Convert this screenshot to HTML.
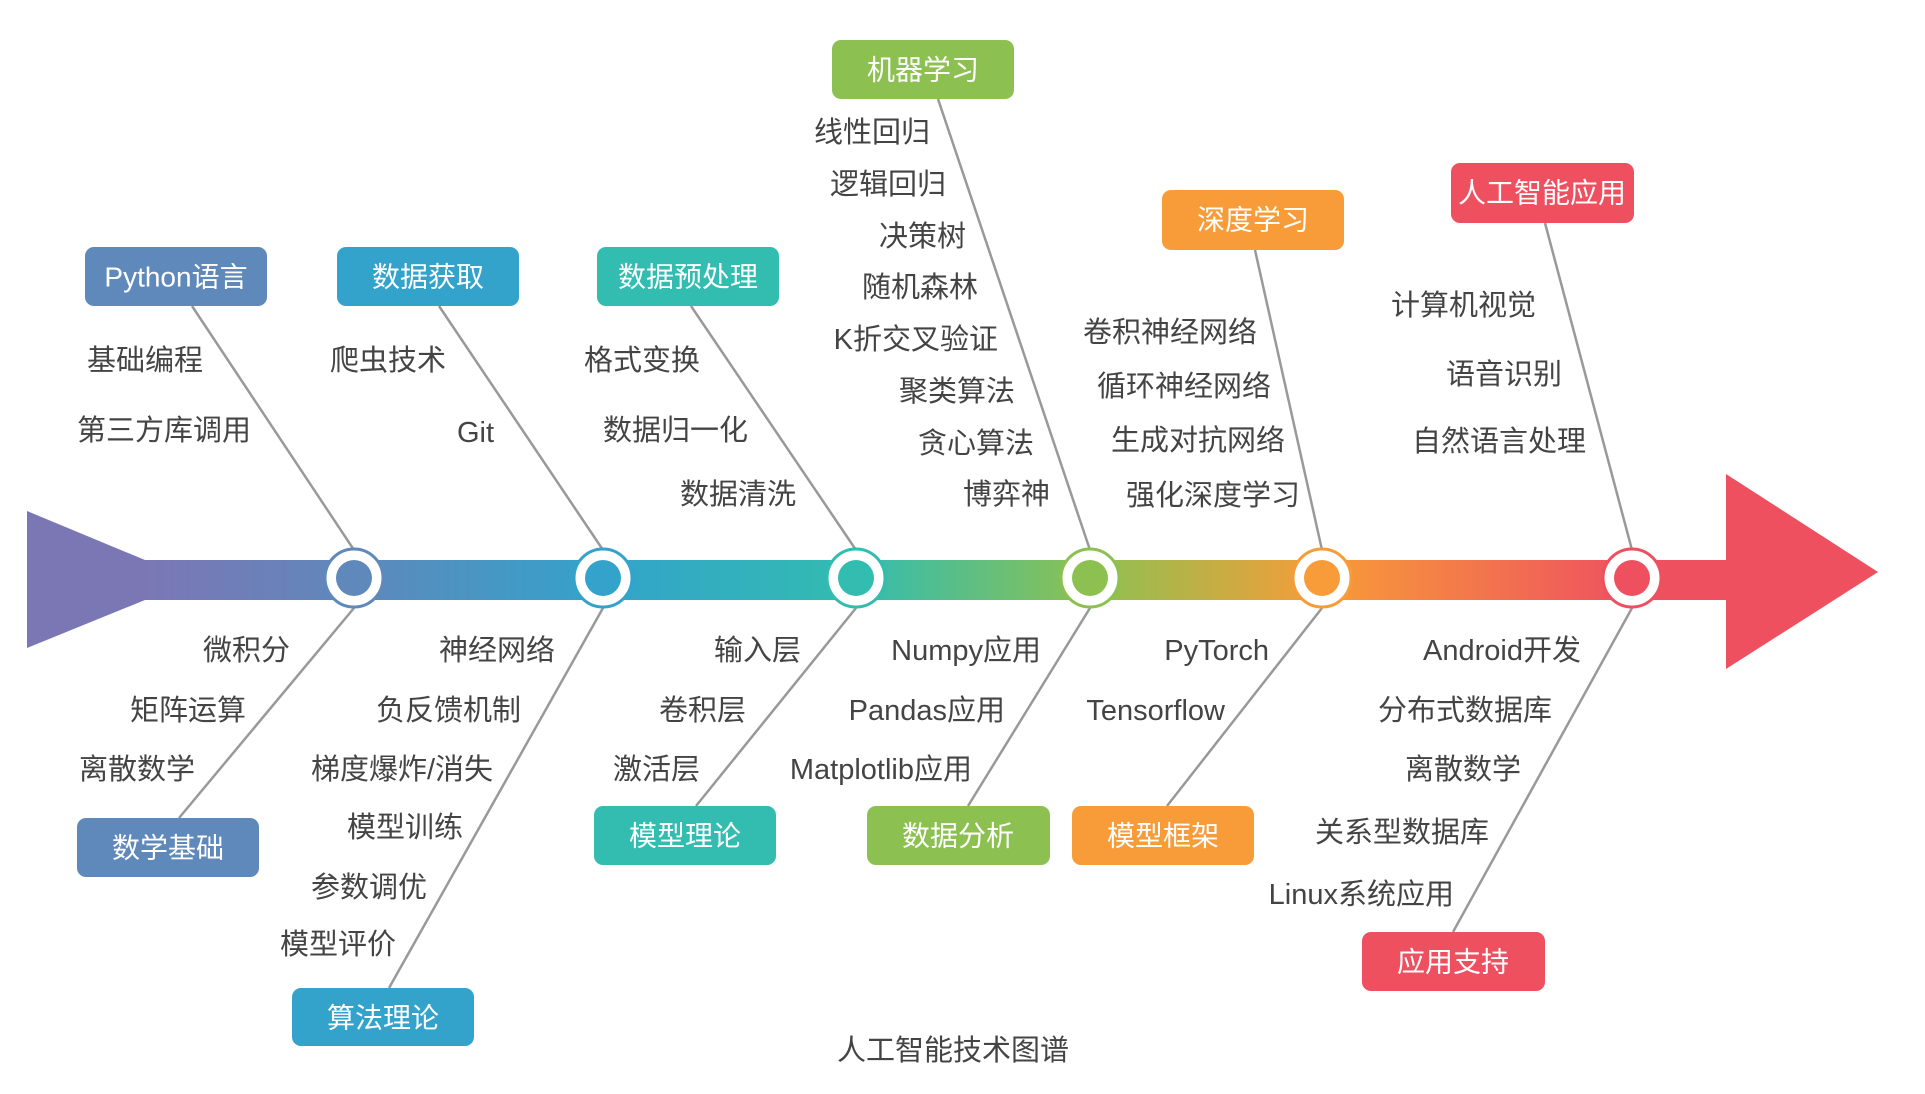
<!DOCTYPE html>
<html><head><meta charset="utf-8"><style>
html,body{margin:0;padding:0;background:#fff;}
svg{display:block;}
text{font-family:"Liberation Sans","Noto Sans CJK SC",sans-serif;}
.l{font-size:29px;fill:#444;dominant-baseline:central;text-anchor:end;}
.b{font-size:28px;fill:#fff;dominant-baseline:central;text-anchor:middle;}
</style></head><body>
<svg width="1925" height="1094" viewBox="0 0 1925 1094" xmlns="http://www.w3.org/2000/svg">
<defs>
<linearGradient id="g" gradientUnits="userSpaceOnUse" x1="0" y1="0" x2="1925" y2="0">
<stop offset="0.075" stop-color="#7b77b5"/>
<stop offset="0.184" stop-color="#5f88bb"/>
<stop offset="0.313" stop-color="#33a3cb"/>
<stop offset="0.445" stop-color="#33bcb0"/>
<stop offset="0.566" stop-color="#8cc152"/>
<stop offset="0.687" stop-color="#f79c38"/>
<stop offset="0.848" stop-color="#ee5060"/>
</linearGradient>
</defs>
<g stroke="#999" stroke-width="2.5">
<line x1="192" y1="306" x2="354" y2="550"/>
<line x1="439" y1="306" x2="603" y2="550"/>
<line x1="691" y1="306" x2="856" y2="550"/>
<line x1="938" y1="99" x2="1090" y2="550"/>
<line x1="1255" y1="250" x2="1322" y2="550"/>
<line x1="1545" y1="223" x2="1632" y2="550"/>
<line x1="354" y1="608" x2="179" y2="818"/>
<line x1="603" y1="608" x2="389" y2="988"/>
<line x1="856" y1="608" x2="696" y2="806"/>
<line x1="1090" y1="608" x2="968" y2="806"/>
<line x1="1322" y1="608" x2="1167" y2="806"/>
<line x1="1632" y1="608" x2="1453" y2="932"/>
</g>
<polygon points="27,511 145,560 145,600 27,648" fill="#7b77b5"/>
<rect x="140" y="560" width="1590" height="40" fill="url(#g)"/>
<polygon points="1726,474 1878,572 1726,669" fill="#ee5060"/>
<g stroke-width="3" fill="#fff">
<circle cx="354" cy="578" r="29" stroke="#5f88bb"/><circle cx="354" cy="578" r="18" fill="#5f88bb" stroke="none"/>
<circle cx="603" cy="578" r="29" stroke="#33a3cb"/><circle cx="603" cy="578" r="18" fill="#33a3cb" stroke="none"/>
<circle cx="856" cy="578" r="29" stroke="#33bcb0"/><circle cx="856" cy="578" r="18" fill="#33bcb0" stroke="none"/>
<circle cx="1090" cy="578" r="29" stroke="#8cc152"/><circle cx="1090" cy="578" r="18" fill="#8cc152" stroke="none"/>
<circle cx="1322" cy="578" r="29" stroke="#f79c38"/><circle cx="1322" cy="578" r="18" fill="#f79c38" stroke="none"/>
<circle cx="1632" cy="578" r="29" stroke="#ee5060"/><circle cx="1632" cy="578" r="18" fill="#ee5060" stroke="none"/>
</g>
<rect x="85" y="247" width="182" height="59" rx="9" fill="#5f88bb"/><text class="b" x="176" y="277">Python语言</text>
<rect x="337" y="247" width="182" height="59" rx="9" fill="#33a3cb"/><text class="b" x="428" y="277">数据获取</text>
<rect x="597" y="247" width="182" height="59" rx="9" fill="#33bcb0"/><text class="b" x="688" y="277">数据预处理</text>
<rect x="832" y="40" width="182" height="59" rx="9" fill="#8cc152"/><text class="b" x="923" y="70">机器学习</text>
<rect x="1162" y="190" width="182" height="60" rx="9" fill="#f79c38"/><text class="b" x="1253" y="220">深度学习</text>
<rect x="1451" y="163" width="183" height="60" rx="9" fill="#ee5060"/><text class="b" x="1542" y="193">人工智能应用</text>
<rect x="77" y="818" width="182" height="59" rx="9" fill="#5f88bb"/><text class="b" x="168" y="848">数学基础</text>
<rect x="292" y="988" width="182" height="58" rx="9" fill="#33a3cb"/><text class="b" x="383" y="1018">算法理论</text>
<rect x="594" y="806" width="182" height="59" rx="9" fill="#33bcb0"/><text class="b" x="685" y="836">模型理论</text>
<rect x="867" y="806" width="183" height="59" rx="9" fill="#8cc152"/><text class="b" x="958" y="836">数据分析</text>
<rect x="1072" y="806" width="182" height="59" rx="9" fill="#f79c38"/><text class="b" x="1163" y="836">模型框架</text>
<rect x="1362" y="932" width="183" height="59" rx="9" fill="#ee5060"/><text class="b" x="1453" y="962">应用支持</text>
<text class="l" x="203" y="361">基础编程</text>
<text class="l" x="251" y="431">第三方库调用</text>
<text class="l" x="446" y="361">爬虫技术</text>
<text class="l" x="494" y="433">Git</text>
<text class="l" x="700" y="361">格式变换</text>
<text class="l" x="748" y="431">数据归一化</text>
<text class="l" x="796" y="495">数据清洗</text>
<text class="l" x="930" y="133">线性回归</text>
<text class="l" x="946" y="185">逻辑回归</text>
<text class="l" x="966" y="237">决策树</text>
<text class="l" x="978" y="288">随机森林</text>
<text class="l" x="998" y="340">K折交叉验证</text>
<text class="l" x="1015" y="392">聚类算法</text>
<text class="l" x="1034" y="444">贪心算法</text>
<text class="l" x="1050" y="495">博弈神</text>
<text class="l" x="1257" y="333">卷积神经网络</text>
<text class="l" x="1271" y="387">循环神经网络</text>
<text class="l" x="1285" y="441">生成对抗网络</text>
<text class="l" x="1300" y="496">强化深度学习</text>
<text class="l" x="1536" y="306">计算机视觉</text>
<text class="l" x="1562" y="375">语音识别</text>
<text class="l" x="1586" y="442">自然语言处理</text>
<text class="l" x="290" y="651">微积分</text>
<text class="l" x="246" y="711">矩阵运算</text>
<text class="l" x="195" y="770">离散数学</text>
<text class="l" x="555" y="651">神经网络</text>
<text class="l" x="521" y="711">负反馈机制</text>
<text class="l" x="493" y="770">梯度爆炸/消失</text>
<text class="l" x="463" y="828">模型训练</text>
<text class="l" x="427" y="888">参数调优</text>
<text class="l" x="396" y="945">模型评价</text>
<text class="l" x="801" y="651">输入层</text>
<text class="l" x="746" y="711">卷积层</text>
<text class="l" x="700" y="770">激活层</text>
<text class="l" x="1041" y="651">Numpy应用</text>
<text class="l" x="1005" y="711">Pandas应用</text>
<text class="l" x="972" y="770">Matplotlib应用</text>
<text class="l" x="1269" y="651">PyTorch</text>
<text class="l" x="1225" y="711">Tensorflow</text>
<text class="l" x="1581" y="651">Android开发</text>
<text class="l" x="1552" y="711">分布式数据库</text>
<text class="l" x="1521" y="770">离散数学</text>
<text class="l" x="1489" y="833">关系型数据库</text>
<text class="l" x="1454" y="895">Linux系统应用</text>
<text class="l" x="1069" y="1051" style="font-size:29px">人工智能技术图谱</text>
</svg>
</body></html>
